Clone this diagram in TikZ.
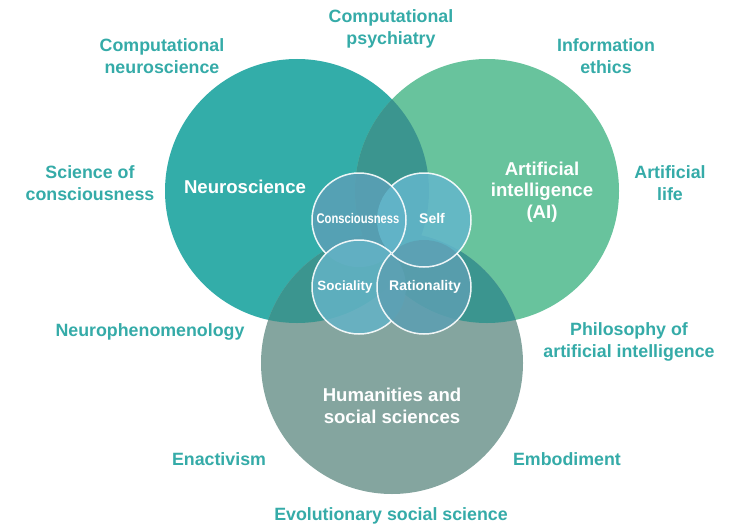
\documentclass[tikz,border=0pt]{standalone}
\usepackage{fontspec}
\setmainfont{Liberation Sans}
\usepackage{graphicx}
\definecolor{neuro}{HTML}{33ADA9}
\definecolor{aicol}{HTML}{68C39D}
\definecolor{hum}{HTML}{84A59F}
\definecolor{overlapc}{HTML}{3B958F}
\definecolor{lab}{HTML}{35ABA8}
\definecolor{ccon}{RGB}{91,160,183}
\definecolor{cself}{RGB}{100,183,204}
\definecolor{csoc}{RGB}{100,179,198}
\definecolor{crat}{RGB}{92,159,178}
\begin{document}
\begin{tikzpicture}[x=1pt,y=-1pt,
  outer/.style={text=lab, font=\fontsize{17.8}{21.3}\selectfont\bfseries, align=center, inner sep=0pt},
  bigtext/.style={text=white, font=\fontsize{18.6}{21.5}\selectfont\bfseries, align=center, inner sep=0pt},
  smalltext/.style={text=white, font=\fontsize{14}{16}\selectfont\bfseries, inner sep=0pt},
  ring/.style={draw=white, draw opacity=0.9, line width=1.5pt},
  disc/.style={fill opacity=0.85}]
\useasboundingbox (0,0) rectangle (744,527);
% big circles
\coordinate (N) at (297,191);
\coordinate (A) at (487,191);
\coordinate (H) at (392,363);
\fill[neuro] (N) circle (132);
\fill[aicol] (A) circle (132);
\fill[hum] (H) circle (131);
\begin{scope}
  \clip (N) circle (132);
  \fill[overlapc] (A) circle (132);
  \fill[overlapc] (H) circle (131);
\end{scope}
\begin{scope}
  \clip (A) circle (132);
  \fill[overlapc] (H) circle (131);
\end{scope}
% small circles
\coordinate (C) at (359,220);
\coordinate (S) at (424,220);
\coordinate (So) at (359,287);
\coordinate (R) at (424,287);
\fill[ccon, disc] (C) circle (47);
\fill[cself, disc] (S) circle (47);
\fill[csoc, disc] (So) circle (47);
\fill[crat, disc] (R) circle (47);
% interlocking outlines
\begin{scope}[even odd rule]
  \clip (0,0) rectangle (744,527) (C) circle (47);
  \draw[ring] (S) circle (47);
\end{scope}
\begin{scope}[even odd rule]
  \clip (0,0) rectangle (744,527) (S) circle (47);
  \draw[ring] (R) circle (47);
\end{scope}
\begin{scope}[even odd rule]
  \clip (0,0) rectangle (744,527) (R) circle (47);
  \draw[ring] (So) circle (47);
\end{scope}
\begin{scope}[even odd rule]
  \clip (0,0) rectangle (744,527) (So) circle (47);
  \draw[ring] (C) circle (47);
\end{scope}
% inner texts
\node[bigtext] (tneuro) at (245,187) {Neuroscience};
\node[bigtext] (tai) at (542,192) {Artificial\\intelligence\\(AI)};
\node[bigtext] (thum) at (392,406) {Humanities and\\social sciences};
\node[smalltext] (tcon) at (358,218) {\scalebox{0.8}[1]{Consciousness}};
\node[smalltext] (tself) at (432,218) {Self};
\node[smalltext, font=\fontsize{13.4}{16}\selectfont\bfseries] (tsoc) at (345,287) {Sociality};
\node[smalltext] (trat) at (425,287) {Rationality};
% outer labels
\node[outer] (l1) at (162,56) {Computational\\neuroscience};
\node[outer] (l2) at (391,29) {Computational\\psychiatry};
\node[outer] (l3) at (606,56) {Information\\ethics};
\node[outer] (l4) at (90,183) {Science of\\consciousness};
\node[outer] (l5) at (670,183) {Artificial\\life};
\node[outer] (l6) at (150,332) {Neurophenomenology};
\node[outer] (l7) at (629,342) {Philosophy of\\artificial intelligence};
\node[outer] (l8) at (219,459) {Enactivism};
\node[outer] (l9) at (567,459) {Embodiment};
\node[outer] (l10) at (391,516) {Evolutionary social science};
\end{tikzpicture}
\end{document}
